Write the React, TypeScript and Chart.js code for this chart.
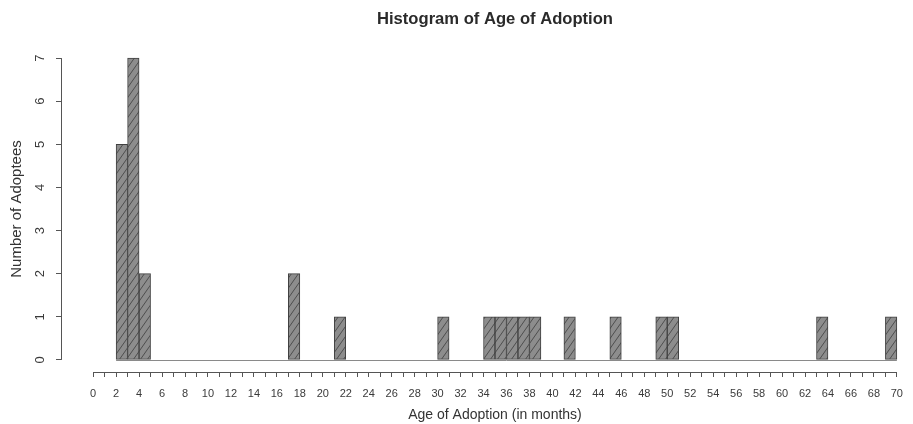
import React, { useEffect, useRef } from "react";
import { Chart, registerables } from "chart.js";

Chart.register(...registerables);

// Histogram bins (left edge, width 1 month) and counts
const binStarts = [2, 3, 4, 17, 21, 30, 34, 35, 36, 37, 38, 41, 45, 49, 50, 63, 69];
const binCounts = [5, 7, 2, 2, 1, 1, 1, 1, 1, 1, 1, 1, 1, 1, 1, 1, 1];
const binWidth = 1;

// Axis ticks
const xTickValues = Array.from({ length: 71 }, (_, i) => i);
const yTickValues = [0, 1, 2, 3, 4, 5, 6, 7];

const titleText = "Histogram of Age of Adoption";
const xTitle = "Age of Adoption (in months)";
const yTitle = "Number of Adoptees";

const FONT = "'Liberation Sans', Arial, Helvetica, sans-serif";

function makeHatch(): CanvasPattern | string {
  const c = document.createElement("canvas");
  const w = 7;
  const h = 10;
  c.width = w;
  c.height = h;
  const g = c.getContext("2d");
  if (!g) return "#8a8a8a";
  g.fillStyle = "#8d8d8d";
  g.fillRect(0, 0, w, h);
  g.strokeStyle = "#4e4e4e";
  g.lineWidth = 1;
  g.beginPath();
  for (let k = -1; k <= 1; k++) {
    g.moveTo(k * w, h);
    g.lineTo(k * w + w, 0);
  }
  g.stroke();
  const p = g.createPattern(c, "repeat");
  return p || "#8a8a8a";
}

const rAxesPlugin = {
  id: "rAxes",
  beforeDatasetsDraw(chart: any) {
    const { ctx, scales } = chart;
    const x = scales.x;
    const y = scales.y;
    ctx.save();
    // zero-count baseline across the histogram range
    const lo = Math.min(...binStarts);
    const hi = Math.max(...binStarts) + binWidth;
    ctx.strokeStyle = "#8a8a8a";
    ctx.lineWidth = 1;
    ctx.beginPath();
    const y0 = Math.round(y.getPixelForValue(0)) + 0.5;
    ctx.moveTo(x.getPixelForValue(lo), y0);
    ctx.lineTo(x.getPixelForValue(hi), y0);
    ctx.stroke();
    ctx.restore();
  },
  afterDraw(chart: any) {
    const { ctx, scales } = chart;
    const x = scales.x;
    const y = scales.y;
    ctx.save();
    ctx.strokeStyle = "#555555";
    ctx.lineWidth = 1;
    // R-style axis lines: from first to last tick
    const ax = Math.round(chart.chartArea.left) + 0.5;
    ctx.beginPath();
    ctx.moveTo(ax, y.getPixelForValue(yTickValues[0]));
    ctx.lineTo(ax, y.getPixelForValue(yTickValues[yTickValues.length - 1]));
    ctx.stroke();
    const ay = Math.round(chart.chartArea.bottom) + 0.5;
    ctx.beginPath();
    ctx.moveTo(x.getPixelForValue(xTickValues[0]), ay);
    ctx.lineTo(x.getPixelForValue(xTickValues[xTickValues.length - 1]), ay);
    ctx.stroke();

    // titles centred on the plot region (midpoint of the x tick range)
    const mid = (xTickValues[0] + xTickValues[xTickValues.length - 1]) / 2;
    const cx = x.getPixelForValue(mid);
    ctx.textAlign = "center";
    ctx.textBaseline = "middle";
    ctx.fillStyle = "#2a2a2a";
    ctx.font = `bold 16.6px ${FONT}`;
    ctx.fillText(titleText, cx, 19);
    ctx.fillStyle = "#333333";
    ctx.font = `14px ${FONT}`;
    ctx.fillText(xTitle, cx, 415.5);
    ctx.restore();
  },
};

export default function App() {
  const ref = useRef<HTMLCanvasElement | null>(null);

  useEffect(() => {
    if (!ref.current) return;
    const hatch = makeHatch();
    const data = binStarts.map((s, i) => ({ x: s + binWidth / 2, y: binCounts[i] }));
    const chart = new Chart(ref.current, {
      type: "bar",
      data: {
        datasets: [
          {
            data: data as any,
            backgroundColor: hatch as any,
            borderColor: "#404040",
            borderWidth: 1,
            borderSkipped: false,
            barPercentage: 1,
            categoryPercentage: 1,
          },
        ],
      },
      options: {
        animation: false,
        responsive: true,
        maintainAspectRatio: false,
        layout: { padding: { left: 0, right: 2, top: 46, bottom: 0 } },
        plugins: {
          legend: { display: false },
          tooltip: { enabled: false },
          title: { display: false },
        },
        scales: {
          x: {
            type: "linear",
            min: -2.8,
            max: 70.4,
            offset: false,
            afterBuildTicks: (s: any) => {
              s.ticks = xTickValues.map((v) => ({ value: v }));
            },
            afterFit: (s: any) => {
              s.height = 52;
            },
            grid: {
              display: true,
              offset: false,
              drawOnChartArea: false,
              drawTicks: true,
              tickLength: 5,
              color: "#555555",
            },
            border: { display: false },
            ticks: {
              autoSkip: false,
              maxRotation: 0,
              minRotation: 0,
              padding: 10,
              color: "#3a3a3a",
              font: { family: FONT, size: 11 },
              callback: (v: any) => (Number(v) % 2 === 0 ? String(v) : ""),
            },
            title: { display: false },
          },
          y: {
            type: "linear",
            min: -0.28,
            max: 7.28,
            afterBuildTicks: (s: any) => {
              s.ticks = yTickValues.map((v) => ({ value: v }));
            },
            afterFit: (s: any) => {
              s.width = 61;
            },
            grid: {
              display: true,
              drawOnChartArea: false,
              drawTicks: true,
              tickLength: 5,
              color: "#555555",
            },
            border: { display: false },
            ticks: {
              minRotation: 90,
              maxRotation: 90,
              crossAlign: "center",
              padding: 12,
              color: "#3a3a3a",
              font: { family: FONT, size: 13 },
            },
            title: {
              display: true,
              text: yTitle,
              color: "#333333",
              font: { family: FONT, size: 15 },
              padding: { top: 8, bottom: 0 },
            },
          },
        },
      } as any,
      plugins: [rAxesPlugin],
    });
    return () => chart.destroy();
  }, []);

  return (
    <div style={{ position: "fixed", left: 0, top: 0, width: 913, height: 424, background: "#ffffff" }}>
      <canvas ref={ref} />
    </div>
  );
}
